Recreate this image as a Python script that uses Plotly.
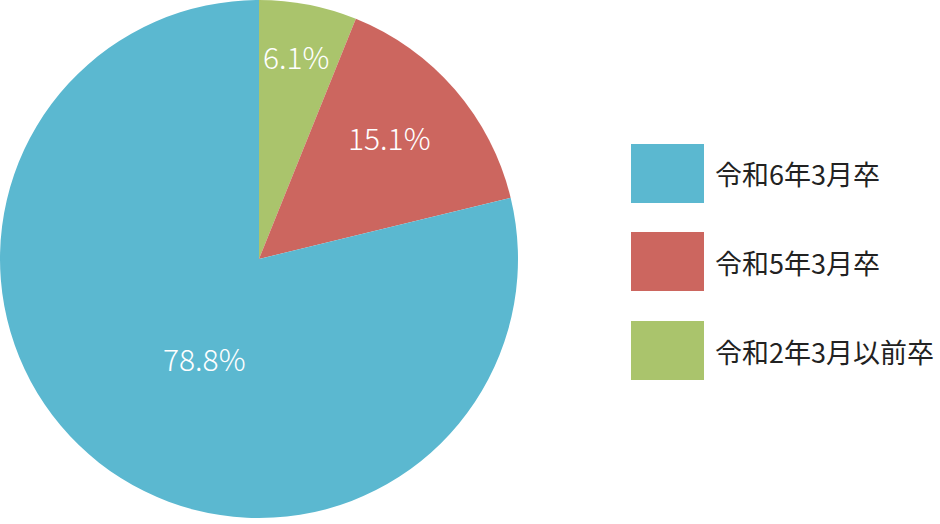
import plotly.graph_objects as go

labels = ["令和2年3月以前卒", "令和5年3月卒", "令和6年3月卒"]
values = [6.1, 15.1, 78.8]
colors = ["#AAC46C", "#CC665F", "#5BB8D0"]
legend_order = ["令和6年3月卒", "令和5年3月卒", "令和2年3月以前卒"]

W, H = 940, 524
FONT = "Noto Sans CJK JP, Noto Sans, sans-serif"

fig = go.Figure(go.Pie(
    labels=labels,
    values=values,
    marker=dict(colors=colors, line=dict(width=0)),
    sort=False,
    direction="clockwise",
    rotation=0,
    textinfo="none",
    hoverinfo="label+value",
    showlegend=False,
    domain=dict(x=[0, 518 / W], y=[6 / H, 1]),
))

def px(x):
    return x / W

def py(y):
    return 1 - y / H

# percentage labels
label_pos = {"令和2年3月以前卒": (296, 56), "令和5年3月卒": (389, 137), "令和6年3月卒": (204, 358)}
annotations = []
for lab, val in zip(labels, values):
    x, y = label_pos[lab]
    annotations.append(dict(
        x=px(x), y=py(y), xref="paper", yref="paper",
        text=f"{val:.1f}%", showarrow=False,
        font=dict(family=FONT, size=30, color="white", weight=300),
        xanchor="center", yanchor="middle",
    ))

# legend
shapes = []
legend_tops = [144, 232, 321]
color_of = dict(zip(labels, colors))
for lab, top in zip(legend_order, legend_tops):
    shapes.append(dict(
        type="rect", xref="paper", yref="paper",
        x0=px(631), x1=px(704), y0=py(top), y1=py(top + 59),
        fillcolor=color_of[lab], line=dict(width=0),
    ))
    annotations.append(dict(
        x=px(713), y=py(top + 30), xref="paper", yref="paper",
        text=lab, showarrow=False,
        font=dict(family=FONT, size=27, color="#222222"),
        xanchor="left", yanchor="middle",
    ))

fig.update_layout(
    width=W, height=H,
    margin=dict(l=0, r=0, t=0, b=0),
    paper_bgcolor="white",
    plot_bgcolor="white",
    annotations=annotations,
    shapes=shapes,
)

fig.write_html("out.html", config={"displayModeBar": False},
               post_script="document.body.style.margin='0';")
